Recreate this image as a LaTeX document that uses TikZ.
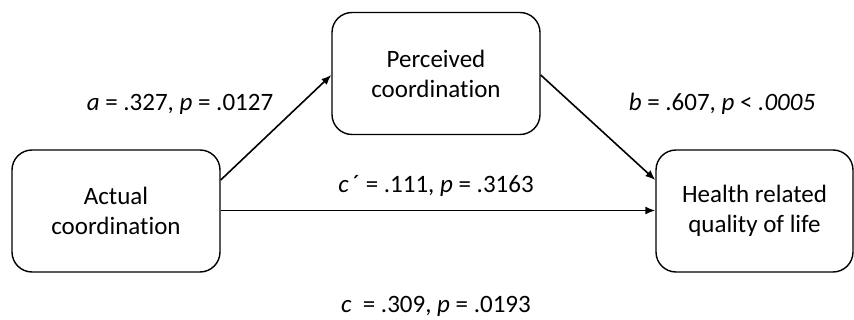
\documentclass[tikz,border=0pt]{standalone}
\usepackage{fontspec}
\setmainfont[Ligatures={NoCommon}]{Carlito}
\usepackage{tikz}
\usetikzlibrary{positioning, arrows.meta}

\tikzset{
	varbox/.style={rectangle, rounded corners=20pt, draw, line width=1.4pt,
		minimum height=122pt, align=center, inner sep=0pt},
	path/.style={line width=1.6pt, -{Latex[length=10pt,width=8pt]}},
	coef/.style={inner sep=0pt}
}

\begin{document}
\begin{tikzpicture}[x=1pt, y=-1pt, font=\fontsize{25}{30}\selectfont]
	\useasboundingbox (0,0) rectangle (854,320);
	\node[varbox, minimum width=208pt] (actual) at (116,211) {Actual\\coordination};
	\node[varbox, minimum width=208pt] (perceived) at (436,73.5) {Perceived\\coordination};
	\node[varbox, minimum width=197pt] (health) at (754.5,211) {Health related\\quality of life};

	\draw[path] (actual.east |- 0,180) -- (perceived.west |- 0,75);
	\draw[path] (perceived.east |- 0,75) -- (health.west |- 0,180);
	\draw[path] (actual.east |- 0,210.5) -- (health.west |- 0,210.5);

	\node[coef] (alabel) at (180,104) {\textit{a} = .327, \textit{p} = .0127};
	\node[coef] (blabel) at (722,104) {\textit{b} = .607, \textit{p} < \textit{.0005}};
	\node[coef] (cplabel) at (436,186) {\textit{c}\,´ = .111, \textit{p} = .3163};
	\node[coef] (clabel) at (436,306) {\textit{c}\ \ = .309, \textit{p} = .0193};
\end{tikzpicture}
\end{document}
